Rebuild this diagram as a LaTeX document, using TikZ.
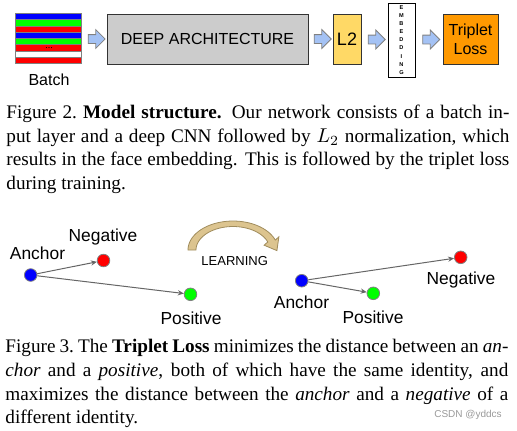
\documentclass[tikz,border=0pt]{standalone}
\usepackage{fontspec}
\setmainfont{Liberation Serif}
\setsansfont{Liberation Sans}
\usetikzlibrary{arrows.meta,positioning,calc,shapes.arrows}

\definecolor{archgray}{HTML}{CCCCCC}
\definecolor{ltwoyellow}{HTML}{FFD966}
\definecolor{lossorange}{HTML}{FF9900}
\definecolor{flowblue}{HTML}{A4C2F4}
\definecolor{learnfill}{HTML}{DCC48F}
\definecolor{learnline}{HTML}{A08C5C}

\begin{document}
\begin{tikzpicture}[x=0.5pt, y=-0.5pt,
    box/.style={draw=black!80, line width=0.5pt, inner sep=0pt, align=center, font=\sffamily\fontsize{8}{9.5}\selectfont},
    flow/.style={single arrow, draw=gray, fill=flowblue, line width=0.4pt, minimum height=8.5pt, minimum width=0pt,
                 text height=4pt, text depth=0pt, text width=0pt,
                 single arrow head extend=2.5pt, single arrow head indent=0pt, inner sep=0pt},
    dot/.style={circle, draw=gray, line width=0.4pt, fill=#1, minimum size=6.3pt, inner sep=0pt},
    lbl/.style={inner sep=0pt, anchor=base, font=\sffamily\fontsize{8.7}{10}\selectfont},
    link/.style={draw=black!60, line width=0.5pt, -{Stealth[length=3pt, width=2.6pt]}},
    capt/.style={inner sep=0pt, anchor=base west, text width=251.5pt, align=justify, font=\fontsize{9.6}{11.9}\selectfont}]
  \useasboundingbox (0,0) rectangle (517,430);

  % model structure
  \node[inner sep=0pt, minimum width=33pt, minimum height=25pt] (batch) at (49,39) {};
  \foreach \c [count=\i from 0] in {blue,green,red,blue,green,red,white,red}
    \draw[gray, line width=0.4pt, fill=\c] ($(batch.north west)+(0,6.25*\i)$) rectangle ++(66,6.25);
  \node[inner sep=0pt, font=\fontsize{5}{5}\selectfont] (dots) at (49,47.6) {...};
  \node[inner sep=0pt, font=\sffamily\fontsize{8}{9.5}\selectfont, below=4.3pt of batch] (batchlabel) {Batch};

  \node[box, fill=archgray, minimum width=100.5pt, minimum height=25pt] (deep) at (207.5,39) {DEEP ARCHITECTURE};
  \node[box, fill=ltwoyellow, minimum width=14pt, minimum height=25pt, font=\sffamily\fontsize{9}{10}\selectfont] (ltwo) at (347,39) {L2};
  \node[box, draw=black, fill=white, minimum width=13.5pt, minimum height=37pt,
        font=\sffamily\bfseries\fontsize{2.8}{4.03}\selectfont] (embed) at (401.5,40) {E\\M\\B\\E\\D\\D\\I\\N\\G};
  \node[box, fill=lossorange, minimum width=27.5pt, minimum height=25pt] (loss) at (470.5,39) {Triplet\\Loss};

  \foreach \a/\b in {batch/deep,deep/ltwo,ltwo/embed,embed/loss}
    \node[flow] (flow-\a) at ($(\a.east)!0.5!(\b.west)$) {};

  % triplet loss, before learning
  \node[dot=blue] (anchorL) at (30.7,275) {};
  \node[dot=red] (negL) at (103.5,260.5) {};
  \node[dot=green] (posL) at (190.5,294.3) {};
  \draw[link] (anchorL) -- (negL);
  \draw[link] (anchorL) -- (posL);
  \node[lbl] (anchorLtxt) at (37.5,259.5) {Anchor};
  \node[lbl] (negLtxt) at (103,241) {Negative};
  \node[lbl] (posLtxt) at (191,324.5) {Positive};

  % learning arrow
  \filldraw[fill=learnfill, draw=learnline, line width=0.4pt]
    plot[domain=180:20, samples=40] ({233+45*cos(\x)},{250-29*sin(\x)})
    -- (278.9,236.8) -- (276.9,250.6) -- (264.1,245.2)
    -- plot[domain=20:180, samples=40] ({233+37*cos(\x)},{250-23.5*sin(\x)}) -- cycle;
  \node[inner sep=0pt, anchor=base, font=\sffamily\fontsize{6.5}{7}\selectfont] (learning) at (234.7,265.7) {LEARNING};

  % triplet loss, after learning
  \node[dot=blue] (anchorR) at (301.7,280.7) {};
  \node[dot=green] (posR) at (373.3,293.3) {};
  \node[dot=red] (negR) at (460.7,257.3) {};
  \draw[link] (anchorR) -- (negR);
  \draw[link] (anchorR) -- (posR);
  \node[lbl] (anchorRtxt) at (301.5,308) {Anchor};
  \node[lbl] (posRtxt) at (373,323) {Positive};
  \node[lbl] (negRtxt) at (461,284) {Negative};

  % captions
  \node[capt] (figtwo) at (6,118.3) {Figure 2.\ \textbf{Model structure.} Our network consists of a batch in-\linebreak
    put layer and a deep CNN followed by $L_2$ normalization, which\linebreak
    results in the face embedding. This is followed by the triplet loss\linebreak
    during training.};
  \node[capt] (figthree) at (5,352.5) {Figure 3.\ The \textbf{Triplet Loss} minimizes the distance between an \textit{an-}\linebreak
    \textit{chor} and a \textit{positive}, both of which have the same identity, and\linebreak
    maximizes the distance between the \textit{anchor} and a \textit{negative} of a\linebreak
    different identity.};
  \node[inner sep=0pt, text=black!40, font=\sffamily\fontsize{5}{6}\selectfont] (mark) at (468,414.5) {CSDN @yddcs};
\end{tikzpicture}
\end{document}
